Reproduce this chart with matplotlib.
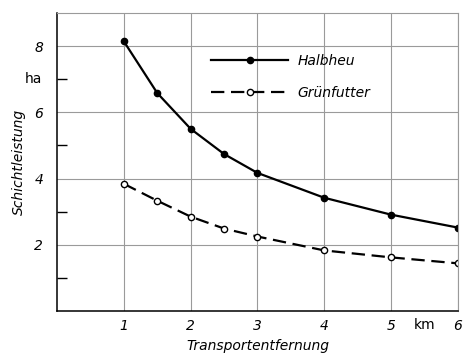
import numpy as np
import matplotlib
matplotlib.use("Agg")
import matplotlib.pyplot as plt
from matplotlib.transforms import blended_transform_factory

# distances (km) and shift output (ha)
km = [1, 1.5, 2, 2.5, 3, 4, 5, 6]
halbheu = [8.14, 6.58, 5.5, 4.74, 4.17, 3.42, 2.91, 2.52]
gruenfutter = [3.84, 3.33, 2.85, 2.49, 2.25, 1.83, 1.62, 1.44]

xticks = [1, 2, 3, 4, 5, 6]
yticks = [2, 4, 6, 8]
yminor = [1, 3, 5, 7]

plt.rcParams['font.family'] = 'DejaVu Sans'

fig = plt.figure(figsize=(4.72, 3.6), dpi=100)
ax = fig.add_axes([0.121, 0.136, 0.849, 0.828])

ax.plot(km, halbheu, color='black', lw=1.6, marker='o', ms=4.5,
        mfc='black', mec='black', label='Halbheu')
ax.plot(km, gruenfutter, color='black', lw=1.6, ls=(0, (6, 3)), marker='o',
        ms=4.5, mfc='white', mec='black', mew=1.0, label='Grünfutter')

ax.set_xlim(0, 6)
ax.set_ylim(0, 9)

ax.set_xticks(xticks)
ax.set_xticklabels([str(t) for t in xticks], fontstyle='italic', fontsize=10)
ax.set_yticks(yticks)
ax.set_yticklabels([str(t) for t in yticks], fontstyle='italic', fontsize=10)
ax.set_yticks(yminor, minor=True)
ax.tick_params(axis='x', which='major', length=0, pad=6)
ax.tick_params(axis='y', which='major', length=0, pad=10)
ax.tick_params(axis='y', which='minor', direction='in', length=7, width=1.0)

ax.grid(True, which='major', color='#9a9a9a', lw=0.8)
ax.set_axisbelow(True)

for s in ['left', 'bottom']:
    ax.spines[s].set_color('black')
    ax.spines[s].set_linewidth(1.1)
for s in ['top', 'right']:
    ax.spines[s].set_color('#9a9a9a')
    ax.spines[s].set_linewidth(0.8)

# unit labels
ax.text(-0.037, 7, 'ha', transform=blended_transform_factory(ax.transAxes, ax.transData),
        ha='right', va='center', fontsize=10)
ax.text(5.5, -0.047, 'km', transform=blended_transform_factory(ax.transData, ax.transAxes),
        ha='center', va='center', fontsize=10)

ax.set_ylabel('Schichtleistung', fontstyle='italic', fontsize=10, labelpad=6)
ax.set_xlabel('Transportentfernung', fontstyle='italic', fontsize=10, labelpad=4)

ax.legend(loc='upper left', bbox_to_anchor=(0.385, 0.863), frameon=False,
          borderpad=0, borderaxespad=0,
          handlelength=5.5, handletextpad=0.7, labelspacing=1.3,
          prop={'style': 'italic', 'size': 10})

fig.savefig('out.png', dpi=100)
